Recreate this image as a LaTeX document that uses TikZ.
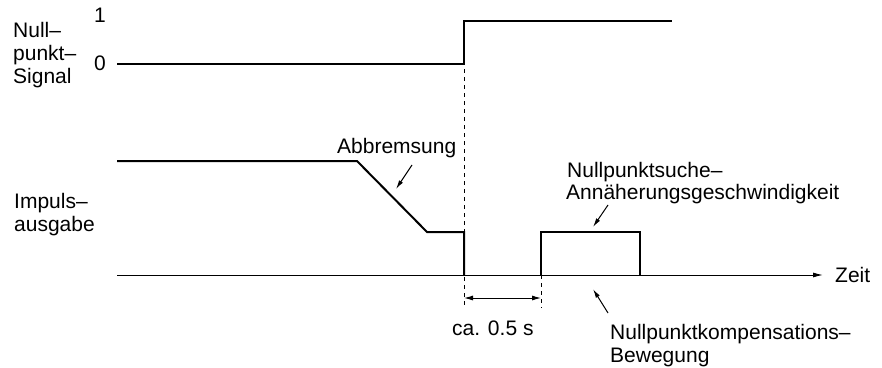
\documentclass[tikz,border=0pt]{standalone}
\usepackage{fontspec}
\setmainfont{Liberation Sans}
\usetikzlibrary{arrows.meta}
\begin{document}
\begin{tikzpicture}[x=1pt,y=-1pt,
  lbl/.style={anchor=base west,inner sep=0pt,font=\fontsize{21}{23}\selectfont},
  wave/.style={line width=2pt,line join=miter},
  axisline/.style={line width=1pt,-{Latex[length=10pt,width=5pt]}},
  guide/.style={line width=0.8pt,dash pattern=on 4pt off 4pt},
  pointer/.style={line width=1pt,-{Latex[length=9pt,width=4.5pt]}},
  dimarrow/.style={line width=1pt,{Latex[length=9pt,width=5pt]}-{Latex[length=9pt,width=5pt]}}]
\useasboundingbox (0,0) rectangle (882,367);
% coordinates
\coordinate (s0) at (117,64);
\coordinate (sEdgeL) at (464,64);
\coordinate (sEdgeH) at (464,21);
\coordinate (s1) at (672,21);
\coordinate (p0) at (117,161);
\coordinate (p1) at (357,161);
\coordinate (p2) at (427,232);
\coordinate (p3) at (464,232);
\coordinate (p4) at (464,275);
\coordinate (q0) at (541,275);
\coordinate (q1) at (541,232);
\coordinate (q2) at (640,232);
\coordinate (q3) at (640,275);
\coordinate (ax0) at (117,275);
\coordinate (ax1) at (823,275);
\coordinate (d1top) at (464,21);
\coordinate (d1bot) at (464,308);
\coordinate (d2top) at (541,275);
\coordinate (d2bot) at (541,308);
\coordinate (dimL) at (464,298);
\coordinate (dimR) at (541,298);
% labels
\node[lbl] (nullA) at (13,37) {Null–};
\node[lbl] (nullB) at (13,60) {punkt–};
\node[lbl] (nullC) at (13,83) {Signal};
\node[lbl] (one) at (94,22) {1};
\node[lbl] (zero) at (94,70) {0};
\node[lbl] (impA) at (14,208) {Impuls–};
\node[lbl] (impB) at (14,231) {ausgabe};
\node[lbl] (abb) at (337,153) {Abbremsung};
\node[lbl] (nsA) at (567,177) {Nullpunktsuche–};
\node[lbl] (nsB) at (566,199) {Annäherungsgeschwindigkeit};
\node[lbl] (zeit) at (835,282) {Zeit};
\node[lbl] (ca) at (452,335) {ca. 0.5 s};
\node[lbl] (nkA) at (610,339) {Nullpunktkompensations–};
\node[lbl] (nkB) at (610,362) {Bewegung};
% guides
\draw[guide] (d1top) -- (d1bot);
\draw[guide] (d2top) -- (d2bot);
% axis
\draw[axisline] (ax0) -- (ax1);
% waves
\draw[wave] (s0) -- (sEdgeL) -- (sEdgeH) -- (s1);
\draw[wave] (p0) -- (p1) -- (p2) -- (p3) -- (p4);
\draw[wave] (q0) -- (q1) -- (q2) -- (q3);
% dimension
\draw[dimarrow] (dimL) -- (dimR);
% pointers
\coordinate (abbT) at (412,165);
\coordinate (abbH) at (396,189);
\draw[pointer] (abbT) -- (abbH);
\coordinate (nsT) at (608,205);
\coordinate (nsH) at (593,227);
\draw[pointer] (nsT) -- (nsH);
\coordinate (nkT) at (608,313);
\coordinate (nkH) at (593,289);
\draw[pointer] (nkT) -- (nkH);
\end{tikzpicture}
\end{document}
